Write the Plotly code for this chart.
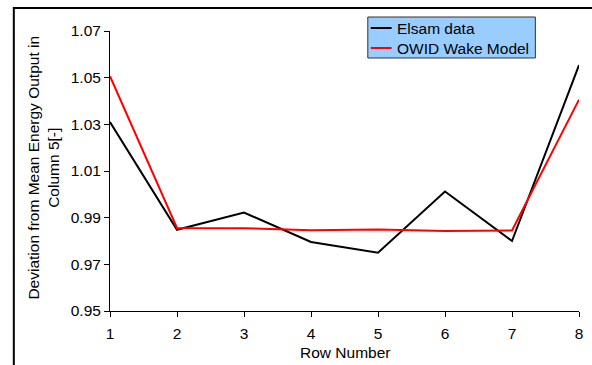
import plotly.graph_objects as go

rows = [1, 2, 3, 4, 5, 6, 7, 8]
elsam = [1.031, 0.9848, 0.9922, 0.9796, 0.9750, 1.0012, 0.9800, 1.0554]
owid = [1.0506, 0.9856, 0.9855, 0.9846, 0.9849, 0.9843, 0.9845, 1.0406]
series_names = ["Elsam data", "OWID Wake Model"]
series_colors = ["#000000", "#FF0000"]
y_ticks = [0.95, 0.97, 0.99, 1.01, 1.03, 1.05, 1.07]
y_tick_text = ["0.95", "0.97", "0.99", "1.01", "1.03", "1.05", "1.07"]

W, H = 592, 365
ML, MR, MT, MB = 110, 9, 31, 54
PW, PH = W - ML - MR, H - MT - MB

def px(x):
    return (x - ML) / PW

def py(y):
    return (H - MB - y) / PH

FONT = "Liberation Sans, Arial, sans-serif"
FS = 15.5

fig = go.Figure()
for name, vals, col in zip(series_names, [elsam, owid], series_colors):
    fig.add_trace(go.Scatter(x=rows, y=vals, mode="lines", name=name,
                             line=dict(color=col, width=2), showlegend=False))

shapes = []
annotations = []
# outer frame
shapes.append(dict(type="rect", xref="paper", yref="paper",
                   x0=px(13), x1=px(620), y0=py(400), y1=py(8),
                   line=dict(color="black", width=2), fillcolor="rgba(0,0,0,0)", layer="above"))
# legend box
shapes.append(dict(type="rect", xref="paper", yref="paper",
                   x0=px(370), x1=px(539), y0=py(58), y1=py(17),
                   line=dict(color="#333333", width=1), fillcolor="#99CCFF", layer="above"))
for i, (name, col) in enumerate(zip(series_names, series_colors)):
    yy = 28 + i * 20
    shapes.append(dict(type="line", xref="paper", yref="paper",
                       x0=px(373), x1=px(394), y0=py(yy), y1=py(yy),
                       line=dict(color=col, width=2), layer="above"))
    annotations.append(dict(text=name, xref="paper", yref="paper", x=px(397), y=py(yy),
                            xanchor="left", yanchor="middle", showarrow=False,
                            font=dict(family=FONT, size=FS, color="black")))

annotations.append(dict(text="Deviation from Mean Energy Output in<br>Column 5[-]",
                        xref="paper", yref="paper", x=px(42), y=py(168), textangle=-90,
                        xanchor="center", yanchor="middle", showarrow=False,
                        font=dict(family=FONT, size=FS, color="black")))
annotations.append(dict(text="Row Number", xref="paper", yref="paper", x=0.5, y=py(352),
                        xanchor="center", yanchor="middle", showarrow=False,
                        font=dict(family=FONT, size=FS, color="black")))

fig.update_layout(
    width=W, height=H,
    margin=dict(l=ML, r=MR, t=MT, b=MB, pad=0),
    paper_bgcolor="white", plot_bgcolor="white",
    font=dict(family=FONT, size=FS, color="black"),
    shapes=shapes, annotations=annotations,
    showlegend=False,
)
fig.update_xaxes(range=[1, 8], tickvals=rows, ticktext=[str(r) for r in rows],
                 showline=True, linecolor="black", linewidth=1, ticks="outside",
                 ticklen=5, tickcolor="black", showgrid=False, zeroline=False,
                 ticklabelstandoff=3)
fig.update_yaxes(range=[0.95, 1.07], tickvals=y_ticks, ticktext=y_tick_text,
                 showline=True, linecolor="black", linewidth=1, ticks="outside",
                 ticklen=5, tickcolor="black", showgrid=False, zeroline=False)

fig.write_html("out.html")
